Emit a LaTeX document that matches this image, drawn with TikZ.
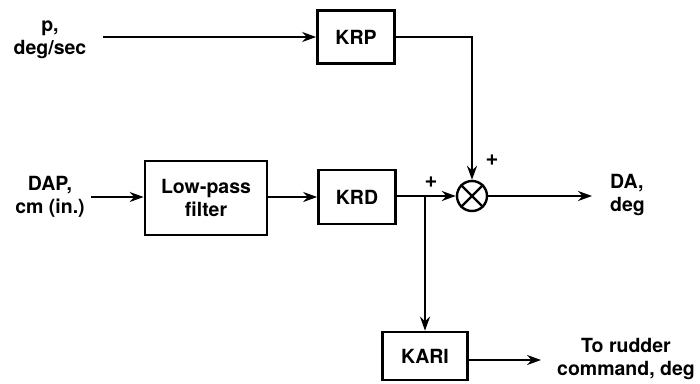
\documentclass[tikz,border=0pt]{standalone}
\usepackage{fontspec}
\setmainfont{TeX Gyre Heros}
\usetikzlibrary{arrows.meta}
\begin{document}
\begin{tikzpicture}[x=1pt,y=-1pt,
  blk/.style={draw,line width=2.7pt,inner sep=0pt,font=\fontsize{19.5}{23}\selectfont\bfseries,align=center},
  lbl/.style={font=\fontsize{19.5}{23}\selectfont\bfseries,align=center,inner sep=0pt},
  sig/.style={line width=2.1pt},
  arr/.style={sig,-{Stealth[length=14pt,width=10pt]}},
  pl/.style={font=\fontsize{22}{22}\selectfont\bfseries,inner sep=0pt}]
\useasboundingbox (0,0) rectangle (700,383);
\node[lbl] (p) at (50,40) {p,\\deg/sec};
\node[blk,minimum width=77pt,minimum height=53pt] (krp) at (356,37) {KRP};
\node[lbl] (dap) at (50,197) {DAP,\\cm (in.)};
\node[blk,minimum width=122pt,minimum height=74pt] (lpf) at (206,198) {Low-pass\\filter};
\node[blk,minimum width=77pt,minimum height=54pt] (krd) at (357,197) {KRD};
\node[draw,circle,line width=2.4pt,minimum size=30pt,inner sep=0pt] (s) at (472,196) {};
\draw[line width=2.4pt] (s.north west) -- (s.south east) (s.north east) -- (s.south west);
\node[lbl,align=left,anchor=west] (da) at (610,195) {DA,\\deg};
\node[blk,minimum width=85pt,minimum height=48pt] (kari) at (425,356) {KARI};
\node[lbl] (rud) at (626,359) {To rudder\\command, deg};
\coordinate (j) at (425,196);
\coordinate (pend) at (103,37);
\draw[arr] (pend) -- (krp.west);
\coordinate (dapend) at (91,197);
\draw[arr] (dapend) -- (dapend -| lpf.west);
\draw[arr] (lpf.east |- krd) -- (krd.west);
\draw[arr] (krp.east) -| (s.north);
\draw[arr] (krd.east |- s) -- (s.west);
\draw[arr] (j) -- (kari.north);
\coordinate (daend) at (592,196);
\draw[arr] (s.east) -- (daend);
\coordinate (kend) at (541,360);
\draw[arr] (kari.east |- kend) -- (kend);
\node[pl] (p1) at (492,160) {+};
\node[pl] (p2) at (431,182) {+};
\end{tikzpicture}
\end{document}
